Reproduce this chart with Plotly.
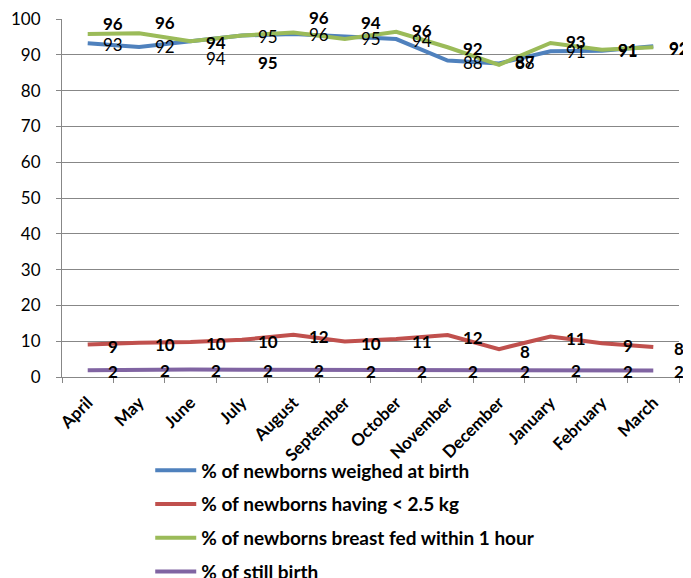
import plotly.graph_objects as go

months = ["April", "May", "June", "July", "August", "September", "October",
          "November", "December", "January", "February", "March"]

weighed = [93.2, 92.2, 93.8, 95.4, 95.8, 95.2, 94.4, 88.4, 87.6, 91.0, 91.1, 92.4]
low_wt = [9.1, 9.6, 9.8, 10.4, 11.8, 9.9, 10.6, 11.7, 7.8, 11.3, 9.4, 8.4]
breastfed = [95.8, 96.0, 93.8, 95.4, 96.2, 94.4, 96.4, 92.1, 87.2, 93.3, 91.4, 92.1]
still = [1.9, 2.1, 2.1, 2.0, 2.0, 1.8, 1.8, 1.8, 1.9, 2.0, 1.8, 1.8]

names = ["% of newborns weighed at birth",
         "% of newborns having < 2.5 kg",
         "% of newborns breast fed within 1 hour",
         "% of still birth"]
colors = ["#4F81BD", "#C0504D", "#9BBB59", "#8064A2"]

# data-label nudges in pixels (style), positive = up
weighed_nudge = [-1, 0, -17, -1, 0, -2, -1, -2, 1, 0, 0, -2]
low_wt_nudge = [-2] * 12
breastfed_nudge = [11, 11, -1, -27, 15, 17, 1, -1, 3, 1, 0, -1]
still_nudge = [-1] * 12

FONT = "Lato"
x = list(range(len(months)))

fig = go.Figure()
series = [weighed, low_wt, breastfed, still]
for i, (vals, nm, c) in enumerate(zip(series, names, colors)):
    fig.add_trace(go.Scatter(x=x, y=vals, mode="lines", name=nm,
                             line=dict(color=c, width=4), legendgroup=str(i)))

label_specs = [
    (weighed, weighed_nudge, "normal"),
    (low_wt, low_wt_nudge, "bold"),
    (breastfed, breastfed_nudge, "bold"),
    (still, still_nudge, "bold"),
]
for vals, nudge, wt in label_specs:
    for xi, v, dy in zip(x, vals, nudge):
        fig.add_annotation(x=xi + 0.5, y=v, xref="x", yref="y",
                           text=f"{round(v)}", showarrow=False, yshift=dy,
                           xanchor="center", yanchor="middle",
                           font=dict(family=FONT, size=17, color="black", weight=wt))

# page body has an 8px default margin: figure is sized/offset to compensate
fig.update_layout(
    width=683, height=570,
    margin=dict(l=54, r=12, t=11, b=201, autoexpand=False),
    paper_bgcolor="white", plot_bgcolor="white",
    font=dict(family=FONT, color="black"),
    showlegend=True,
    legend=dict(x=0.143, y=0.222, xref="paper", yref="container",
                xanchor="left", yanchor="top", itemwidth=41,
                bgcolor="rgba(0,0,0,0)",
                orientation="v", tracegroupgap=6,
                font=dict(family=FONT, size=19, color="black", weight="bold")),
    xaxis=dict(range=[-0.5, 11.5], tickmode="array", tickvals=x, ticktext=months,
               tickangle=-45, ticks="outside", ticklen=8, tickcolor="rgba(0,0,0,0)",
               showgrid=False, zeroline=False,
               showline=True, linecolor="#878787", linewidth=1,
               tickfont=dict(family=FONT, size=17, color="black", weight="bold"),
               minor=dict(tickmode="array", tickvals=[i - 0.5 for i in range(13)],
                          ticks="outside", ticklen=5, tickcolor="#878787", showgrid=False)),
    yaxis=dict(range=[0, 100], tickmode="array", tickvals=list(range(0, 101, 10)),
               ticks="outside", ticklen=5, tickcolor="#878787", ticklabeloverflow="allow",
               ticklabelstandoff=12,
               showgrid=True, gridcolor="#878787", gridwidth=1, zeroline=False,
               showline=True, linecolor="#878787", linewidth=1,
               tickfont=dict(family=FONT, size=17, color="black")),
)

fig.write_html("out.html")
